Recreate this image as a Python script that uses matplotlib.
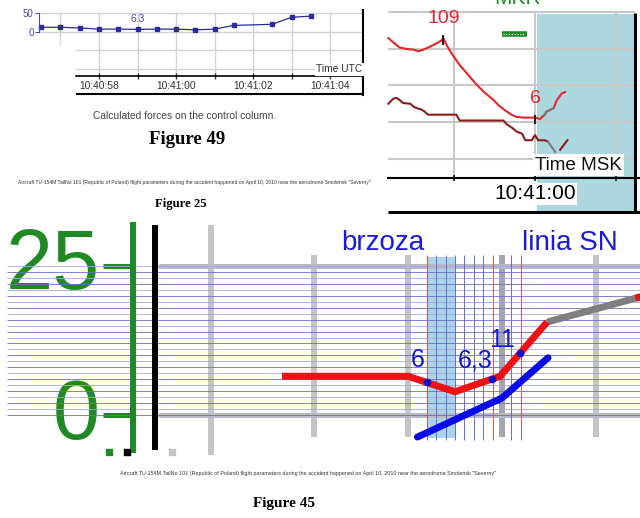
import matplotlib.pyplot as plt
import matplotlib.transforms as mtransforms

plt.rcParams['font.family'] = ['Liberation Sans', 'DejaVu Sans']

W, H = 640, 518
PT = 0.72  # points per pixel at dpi 100

# ---- Figure 49: calculated forces on the control column (s after 10:41:00 UTC) ----
force_t = [-3.5, -3, -2.5, -2, -1.5, -1, -0.5, 0, 0.5, 1, 1.5, 2.5, 3, 3.5]
force_val = [12, 12, 10, 7, 7, 6.3, 7, 7, 5, 7, 17, 20, 39, 42]
force_ticks = [-2, -1, 0, 1, 2, 3, 4]
force_tick_labels = ["10:40:58", "", "10:41:00", "", "10:41:02", "", "10:41:04"]
force_yticks = [0, 50]

# ---- Figure 25 excerpt (s after 10:41:00 MSK) ----
p1_t = [-1.81, -1.75, -1.67, -1.58, -1.50, -1.44, -1.38, -1.30, -1.21, -1.15, -1.13,
        -1.09, -1.03, -0.93, -0.82, -0.72, -0.62, -0.53, -0.45, -0.37, -0.29, -0.23,
        -0.14, 0.0, 0.06, 0.12, 0.14, 0.23, 0.27, 0.33, 0.37]
p1_v = [115, 109, 102, 100, 99, 97, 99, 103, 108, 112, 115, 105, 94, 78, 64, 51, 40,
        32, 23, 16, 10, 7, 6, 6, 4, 10, 14, 19, 30, 39, 41]
p1_gap_t = [0.12, 0.14, 0.23]
p1_gap_v = [10, 14, 19]
p2_t = [-1.81, -1.75, -1.71, -1.67, -1.63, -1.54, -1.50, -1.46, -1.40, -1.36, -1.32,
        -0.97, -0.93, -0.39, -0.35, -0.31, -0.27, -0.23, -0.16, -0.12, -0.04, 0.0,
        0.04, 0.12, 0.16]
p2_v = [25, 32, 33, 30, 26, 25, 21, 19, 17, 14, 10, 10, 2, 2, -3, -6, -9, -13, -16,
        -25, -25, -18, -25, -25, -27]
p2_gap_t = [0.16, 0.25]
p2_gap_v = [-27, -41]
p2_tail_t = [0.31, 0.40]
p2_tail_v = [-38, -25]
p1_marks_t = [-1.13, 0.0]
p1_marks_v = [115, 6]
p1_marks_txt = ["109", "6"]
msk_ticks = [-1, 0, 1]
msk_tick_labels = ["", "10:41:00", ""]
msk_grid = [150, 100, 50, 0, -50]

# ---- Figure 45: bottom panel (s, units 0..25) ----
red_t = [0.66, 2.0, 2.5, 2.98, 3.48]
red_v = [6.5, 6.5, 3.9, 6.5, 15.6]
gray_t = [3.48, 4.47]
gray_v = [15.6, 19.8]
red_end_t = [4.42, 4.6]
red_end_v = [19.6, 20.4]
blue_t = [2.1, 3.0, 3.49]
blue_v = [-3.7, 2.85, 9.6]
mark_t = [2.2, 2.89, 3.19]
mark_v = [5.5, 6.1, 10.4]
mark_txt = ["6", "6,3", "11"]
mark_txt_t = [2.18, 2.90, 3.14]
mark_txt_v = [8.05, 8.05, 11.4]
sec_lines = [1, 2, 3, 4]
tenth_red = [2.2, 2.9, 3.2]
tenth_blue = [2.3, 2.4, 2.5, 2.6, 2.7, 2.8, 3.1]
levels = list(range(26))

GREEN = '#1f8a24'
fig = plt.figure(figsize=(6.4, 5.18), dpi=100)
fig.patch.set_facecolor('white')


def panel(x0, y0, x1, y1, px0, sx, py0, sy):
    # axes placed by pixel box; t=0 at px0 (sx px per unit), v=0 at py0 (sy px per unit)
    ax = fig.add_axes([x0 / W, 1 - y1 / H, (x1 - x0) / W, (y1 - y0) / H])
    ax.set_xlim((x0 - px0) / sx, (x1 - px0) / sx)
    ax.set_ylim((py0 - y1) / sy, (py0 - y0) / sy)
    ax.patch.set_visible(False)
    for s in ax.spines.values():
        s.set_visible(False)
    ax.set_xticks([])
    ax.set_yticks([])
    return ax


def ftext(x, y, s, **kw):
    fig.text(x / W, 1 - y / H, s, ha='center', va='center', **kw)


# ---------- top-left: Figure 49 ----------
ax1 = panel(0, 0, 380, 100, 176, 38.5, 31.7, 0.37)
ax1.hlines([50, 0], -3.55, 4.86, color='#d2d2d2', lw=1.0, zorder=0)
ax1.hlines([-50, -100], -2.6, 4.86, color='#d2d2d2', lw=1.0, zorder=0)
ax1.vlines(-3, -36, 50, color='#d2d2d2', lw=1.0, zorder=0)
ax1.vlines(force_ticks, -119, 50, color='#d2d2d2', lw=1.0, zorder=0)
ax1.plot(force_t, force_val, color='#2a2aa5', lw=0.9, marker='s', ms=2.2)
ax1.annotate(f"{force_val[5]}", (force_t[5], force_val[5]), xytext=(0, 7.5),
             textcoords='offset points', ha='center', va='center',
             fontsize=7.5, color='#4a4ab0')

ax1.spines['left'].set_visible(True)
ax1.spines['left'].set_position(('data', -3.55))
ax1.spines['left'].set_bounds(0, 50)
ax1.spines['left'].set_color('#4a4aa8')
ax1.spines['left'].set_linewidth(0.8)
ax1.set_yticks(force_yticks)
ax1.tick_params(axis='y', direction='out', length=3, width=0.8, color='#4a4aa8',
                labelsize=7, labelcolor='#4a4aa8', pad=1)

ax1.spines['bottom'].set_visible(True)
ax1.spines['bottom'].set_position(('data', -119))
ax1.spines['bottom'].set_bounds(-2.6, 4.86)
ax1.spines['bottom'].set_linewidth(1.2)
ax1.set_xticks(force_ticks, force_tick_labels)
ax1.tick_params(axis='x', direction='inout', length=4, width=1, color='#333333',
                labelsize=7.4, labelcolor='#333333', pad=2)
ax1.spines['right'].set_visible(True)
ax1.spines['right'].set_position(('data', 4.86))
ax1.spines['right'].set_bounds(-171, 58.6)
ax1.spines['right'].set_linewidth(1.5)
ax1.hlines(-168, -2.6, 4.86, color='k', lw=1.5)
ax1.text(4.84, -101, "Time UTC", ha='right', va='center', fontsize=7.4, color='#333333',
         bbox=dict(facecolor='white', edgecolor='none', pad=1))

ftext(185, 116, "Calculated forces on the control column.", fontsize=7.4, color='#444444')
ftext(187, 140, "Figure 49", fontsize=13.5, fontweight='bold', family='Liberation Serif')
ftext(194, 182.5, 'Aircraft TU-154M TailNo 101 (Republic of Poland) flight parameters during '
      'the accident happened on April 10, 2010 near the aerodrome Smolensk "Severny"',
      fontsize=3.6, color='#333333')
ftext(181, 204, "Figure 25", fontsize=9.2, fontweight='bold', family='Liberation Serif')

# ---------- top-right: Figure 25 excerpt ----------
ax2 = panel(380, 0, 640, 214, 535, 81, 122, 0.73)
ax2.fill_between([0.025, 1.235], -123, 148, color='#acd7df', lw=0, zorder=0)
ax2.hlines(msk_grid, -1.815, 1.235, color='#c8c8c8', lw=1.5, zorder=0.5)
ax2.vlines(msk_ticks, -77, 150, color='#c8c8c8', lw=1.5, zorder=0.5)
ax2.plot(p2_t, p2_v, color='#8b1c1c', lw=1.5)
ax2.plot(p2_gap_t, p2_gap_v, color='#7a7a7a', lw=1.5)
ax2.plot(p2_tail_t, p2_tail_v, color='#8b1c1c', lw=1.5)
ax2.plot(p1_t, p1_v, color='#e5262b', lw=1.5)
ax2.plot(p1_gap_t, p1_gap_v, color='#7a7a7a', lw=1.5)
for t, v, s in zip(p1_marks_t, p1_marks_v, p1_marks_txt):
    ax2.vlines(t, v - 9, v + 4, color='#222222', lw=1.5, zorder=3)
    ax2.annotate(s, (t, v), xytext=(0, 8), textcoords='offset points',
                 ha='center', va='bottom', fontsize=14, color='#e5262b')
ax2.text(-0.22, 162, "MKR", ha='center', va='baseline', fontsize=15, color=GREEN)
ax2.plot([-0.41, -0.10], [120.5, 120.5], color=GREEN, lw=4, solid_capstyle='butt')
ax2.plot([-0.39, -0.12], [120.5, 120.5], color='white', lw=0.8, ls=(0, (1, 1.5)))

ax2.spines['bottom'].set_visible(True)
ax2.spines['bottom'].set_position(('data', -77))
ax2.spines['bottom'].set_bounds(-1.815, 1.3)
ax2.spines['bottom'].set_linewidth(1.5)
ax2.set_xticks(msk_ticks, msk_tick_labels)
ax2.tick_params(axis='x', direction='inout', length=5, width=1.3, color='#222222',
                labelsize=15, pad=2)
for lab in ax2.get_xticklabels():
    lab.set_bbox(dict(facecolor='white', edgecolor='none', pad=1))
ax2.hlines(-123.3, -1.815, 1.3, color='k', lw=2.2)
ax2.vlines(1.235, -126, 149, color='k', lw=2.2)
ax2.text(0.54, -59, "Time MSK", ha='center', va='center', fontsize=13.6, color='#111111',
         bbox=dict(facecolor='white', edgecolor='none', pad=1.5))

# ---------- bottom: Figure 45 ----------
ax3 = panel(0, 215, 640, 465, 220, 94, 415, 5.96)
ax3.fill_between([2.2, 2.5], -3.9, 26.5, color='#aad4ea', lw=0, zorder=0.5)
ax3.vlines(-0.1, -6.7, 31.9, color='#c4c4c4', lw=4.3, zorder=1)
ax3.vlines(sec_lines, -3.7, 26.8, color=['#c4c4c4', '#c4c4c4', '#a4a4ae', '#c4c4c4'],
           lw=4.3, zorder=1)
hl = ax3.hlines([0, 25], -0.64, 4.6, color='#b8b8c8', lw=3.6, zorder=1.2)
hl.set_capstyle('round')
ax3.hlines(levels, -2.27, 4.6, colors=['#6c6cbc', '#a6a6dc'] * 13, lw=0.6, zorder=2)
ax3.vlines(tenth_blue, -4.2, 26.8, color='#6a6ad0', lw=0.7, zorder=2.2)
ax3.vlines(tenth_red, -4.2, 26.8, color='#e05050', lw=0.7, zorder=2.2)

ax3.plot(blue_t, blue_v, color='#0a0ae8', lw=5, solid_capstyle='round', zorder=3)
ax3.plot(gray_t, gray_v, color='#7f7f7f', lw=5, solid_capstyle='butt', zorder=3)
ax3.plot(red_end_t, red_end_v, color='#ee1111', lw=5, solid_capstyle='butt', zorder=3)
ax3.plot(red_t, red_v, color='#ee1111', lw=5, solid_capstyle='butt', zorder=3.1)
ax3.plot(mark_t, mark_v, ls='none', marker='o', ms=4.5, color='#1010d0', zorder=4)
for t, v, s in zip(mark_txt_t, mark_txt_v, mark_txt):
    ax3.text(t, v, s, ha='right', va='baseline', fontsize=18, color='#1616cc', zorder=5)
ax3.text(1.73, 28.9, "brzoza", ha='center', va='center', fontsize=20, color='#1a1ad8')
ax3.text(3.72, 28.9, "linia SN", ha='center', va='center', fontsize=20, color='#1a1ad8')

ax3.spines['left'].set_visible(True)
ax3.spines['left'].set_position(('data', -0.926))
ax3.spines['left'].set_bounds(-5.9, 31.9)
ax3.spines['left'].set_color(GREEN)
ax3.spines['left'].set_linewidth(4.3)
ax3.set_yticks([0, 25])
ax3.tick_params(axis='y', direction='out', length=21.6, width=3.6, color=GREEN,
                labelsize=61, labelcolor=GREEN, pad=2)
# the big green labels sit a little above their ticks
lift = mtransforms.ScaledTranslation(0, 7.5 / 100, fig.dpi_scale_trans)
for lab in ax3.get_yticklabels():
    lab.set_transform(lab.get_transform() + lift)
ax3.vlines(-0.69, -5.9, 31.9, color='k', lw=4.3, zorder=3)
ax3.scatter([-1.18, -0.99, -0.51], [-6.2] * 3, marker='s', s=(6 * PT) ** 2,
            c=[GREEN, 'k', '#c4c4c4'], zorder=3)

ftext(308, 474, 'Aircraft TU-154M TailNo 101 (Republic of Poland) flight parameters during '
      'the accident happened on April 10, 2010 near the aerodrome Smolensk "Severny"',
      fontsize=3.9, color='#333333')
ftext(284, 504, "Figure 45", fontsize=11, fontweight='bold', family='Liberation Serif')

fig.savefig('out.png', dpi=100, facecolor='white')
